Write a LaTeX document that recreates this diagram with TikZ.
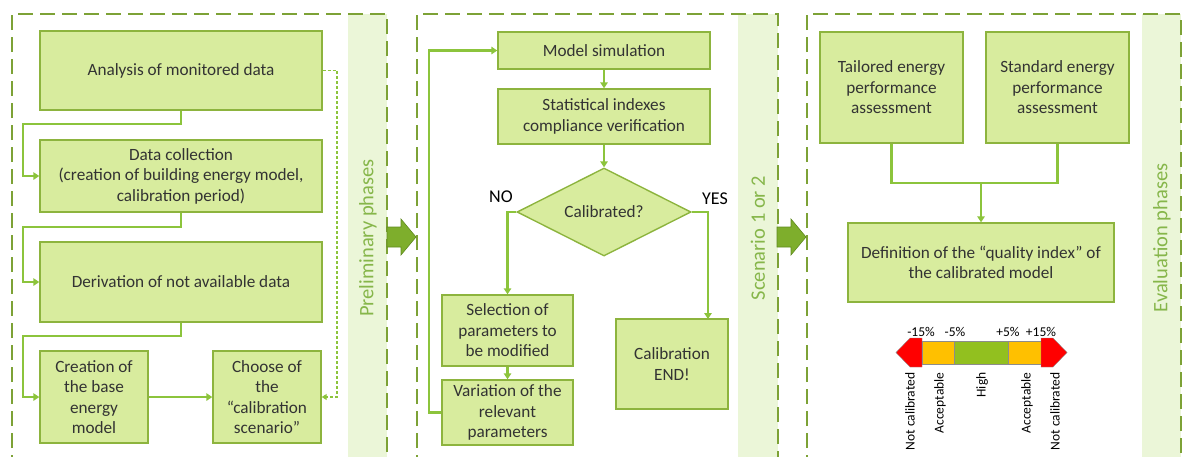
\documentclass[tikz,border=0pt]{standalone}
\usepackage{fontspec}
\setmainfont{Carlito}
\usetikzlibrary{arrows.meta,shapes.geometric}

\definecolor{boxfill}{HTML}{D8EC9E}
\definecolor{boxline}{HTML}{8DB43E}
\definecolor{lineg}{HTML}{8CC43C}
\definecolor{panelline}{HTML}{7DA236}
\definecolor{bandfill}{HTML}{EBF6D8}
\definecolor{bandtext}{HTML}{86B64A}
\definecolor{bigarrow}{HTML}{7EAE2C}
\definecolor{bigarrowline}{HTML}{5F8A1F}
\definecolor{txt}{HTML}{333333}
\definecolor{sred}{HTML}{FF0000}
\definecolor{sorange}{HTML}{FFC000}
\definecolor{sgreen}{HTML}{92C01F}

\tikzset{
  stepbox/.style={draw=boxline, fill=boxfill, line width=1.4pt, align=center,
    text=txt, inner sep=2pt, font=\fontsize{17.2}{20.5}\selectfont},
  decision/.style={diamond, aspect=2, draw=boxline, fill=boxfill, line width=1.4pt,
    text=txt, inner sep=0pt, font=\fontsize{17.2}{20.5}\selectfont},
  conn/.style={draw=lineg, line width=2.4pt, -{Triangle[length=6pt,width=7.5pt]}},
  softconn/.style={draw=lineg, line width=1.4pt, dash pattern=on 3pt off 2pt,
    -{Triangle[length=5pt,width=6pt]}},
  panel/.style={draw=panelline, line width=2.4pt, dash pattern=on 15pt off 7pt},
  band/.style={fill=bandfill, draw=none},
  bandlabel/.style={text=bandtext, rotate=90, font=\fontsize{20.5}{24}\selectfont},
  phasearrow/.style={fill=bigarrow, draw=bigarrowline, line width=0.6pt},
  answer/.style={text=black, font=\fontsize{18}{20}\selectfont},
  tick/.style={text=black, font=\fontsize{13.5}{15}\selectfont},
  level/.style={text=black, rotate=90, anchor=east, font=\fontsize{13.5}{15}\selectfont},
  seg/.style={draw=black!45, line width=0.4pt}
}

\begin{document}
\begin{tikzpicture}[x=1pt,y=-1pt]
\useasboundingbox (0,0) rectangle (1183,456);
\clip (0,0) rectangle (1183,456);

% ---- phase bands and their labels
\fill[band] (348,14) rectangle (387,470);
\fill[band] (738,14) rectangle (778,470);
\fill[band] (1142,14) rectangle (1181,470);
\node[bandlabel] (lblpre) at (368,238) {Preliminary phases};
\node[bandlabel] (lblscen) at (758,238) {Scenario 1 or 2};
\node[bandlabel] (lbleval) at (1162,238) {Evaluation phases};

% ---- dashed phase frames (open at the bottom)
\draw[panel] (12,470) -- (12,14) -- (387,14) -- (387,470);
\draw[panel] (417,470) -- (417,14) -- (778,14) -- (778,470);
\draw[panel] (807,470) -- (807,14) -- (1181,14) -- (1181,470);

% ---- arrows leading from one phase to the next
\draw[phasearrow] (387,227) -- (401,227) -- (401,219) -- (416,237) -- (401,255) -- (401,247) -- (387,247) -- cycle;
\draw[phasearrow] (777,227) -- (791,227) -- (791,219) -- (806,237) -- (791,255) -- (791,247) -- (777,247) -- cycle;

% ---- preliminary phases
\node[stepbox, minimum width=282pt, minimum height=79pt] (ana) at (181,70.5) {Analysis of monitored data};
\node[stepbox, minimum width=282pt, minimum height=72pt] (dat) at (181,176) {Data collection\\(creation of building energy model,\\calibration period)};
\node[stepbox, minimum width=282pt, minimum height=80pt] (der) at (181,282) {Derivation of not available data};
\node[stepbox, minimum width=108pt, minimum height=92pt] (cre) at (94,397) {Creation of\\the base\\energy\\model};
\node[stepbox, minimum width=108pt, minimum height=92pt] (cho) at (267,397) {Choose of\\the\\“calibration\\scenario”};

\coordinate (bendA) at (23,124);
\coordinate (bendB) at (23,227);
\coordinate (bendC) at (23,336);
\coordinate (sideA) at (337,70.5);
\draw[conn] (ana.south) -- (ana.south |- bendA) -- (bendA) |- (dat.west);
\draw[conn] (dat.south) -- (dat.south |- bendB) -- (bendB) |- (der.west);
\draw[conn] (der.south) -- (der.south |- bendC) -- (bendC) |- (cre.west);
\draw[conn] (cre.east) -- (cho.west);
\draw[softconn] (ana.east) -- (sideA) |- (cho.east);

% ---- calibration loop
\node[stepbox, minimum width=212pt, minimum height=37pt] (sim) at (604,50.5) {Model simulation};
\node[stepbox, minimum width=212pt, minimum height=55pt] (sta) at (604,116.5) {Statistical indexes\\compliance verification};
\node[decision, minimum width=174pt, minimum height=88pt] (cal) at (604,212) {Calibrated?};
\node[stepbox, minimum width=131pt, minimum height=71pt] (sel) at (507.5,330.5) {Selection of\\parameters to\\be modified};
\node[stepbox, minimum width=131pt, minimum height=65pt, inner sep=1pt] (var) at (507.5,412.5) {Variation of the\\relevant\\parameters};
\node[stepbox, minimum width=112pt, minimum height=90pt] (fin) at (672,364) {Calibration\\END!};
\node[answer] (no) at (501,197) {NO};
\node[answer] (yes) at (715,199) {YES};

\coordinate (yesdrop) at (708,319);
\coordinate (loopcorner) at (429,412.5);
\draw[conn] (sim) -- (sta);
\draw[conn] (sta) -- (cal.north);
\draw[conn] (cal.west) -| (sel.north);
\draw[conn] (cal.east) -| (yesdrop);
\draw[conn] (sel) -- (var);
\draw[conn] (var.west) -- (loopcorner) |- (sim.west);

% ---- evaluation phases
\node[stepbox, minimum width=143pt, minimum height=111pt] (tai) at (891.5,87.5) {Tailored energy\\performance\\assessment};
\node[stepbox, minimum width=143pt, minimum height=111pt] (std) at (1057.5,87.5) {Standard energy\\performance\\assessment};
\node[stepbox, minimum width=266pt, minimum height=79pt] (def) at (981,262.5) {Definition of the “quality index” of\\the calibrated model};

\coordinate (join) at (981,183);
\draw[draw=lineg, line width=2.4pt] (tai.south) -- (tai.south |- join) -- (std.south |- join) -- (std.south);
\draw[conn] (join) -- (def.north);

% ---- quality index scale
\filldraw[seg, fill=sred] (896,352.5) -- (910,338) -- (922,338) -- (922,367) -- (910,367) -- cycle;
\filldraw[seg, fill=sorange] (922,341) rectangle (954,364);
\filldraw[seg, fill=sgreen] (954,341) rectangle (1008,364);
\filldraw[seg, fill=sorange] (1008,341) rectangle (1041,364);
\filldraw[seg, fill=sred] (1041,338) -- (1053,338) -- (1067,352.5) -- (1053,367) -- (1041,367) -- cycle;

\node[tick] (t1) at (921,332) {-15\%};
\node[tick] (t2) at (955,332) {-5\%};
\node[tick] (t3) at (1008,332) {+5\%};
\node[tick] (t4) at (1041,332) {+15\%};

\node[level] (l1) at (910,369) {Not calibrated};
\node[level] (l2) at (940,369) {Acceptable};
\node[level] (l3) at (982,369) {High};
\node[level] (l4) at (1027,369) {Acceptable};
\node[level] (l5) at (1055,369) {Not calibrated};
\end{tikzpicture}
\end{document}
